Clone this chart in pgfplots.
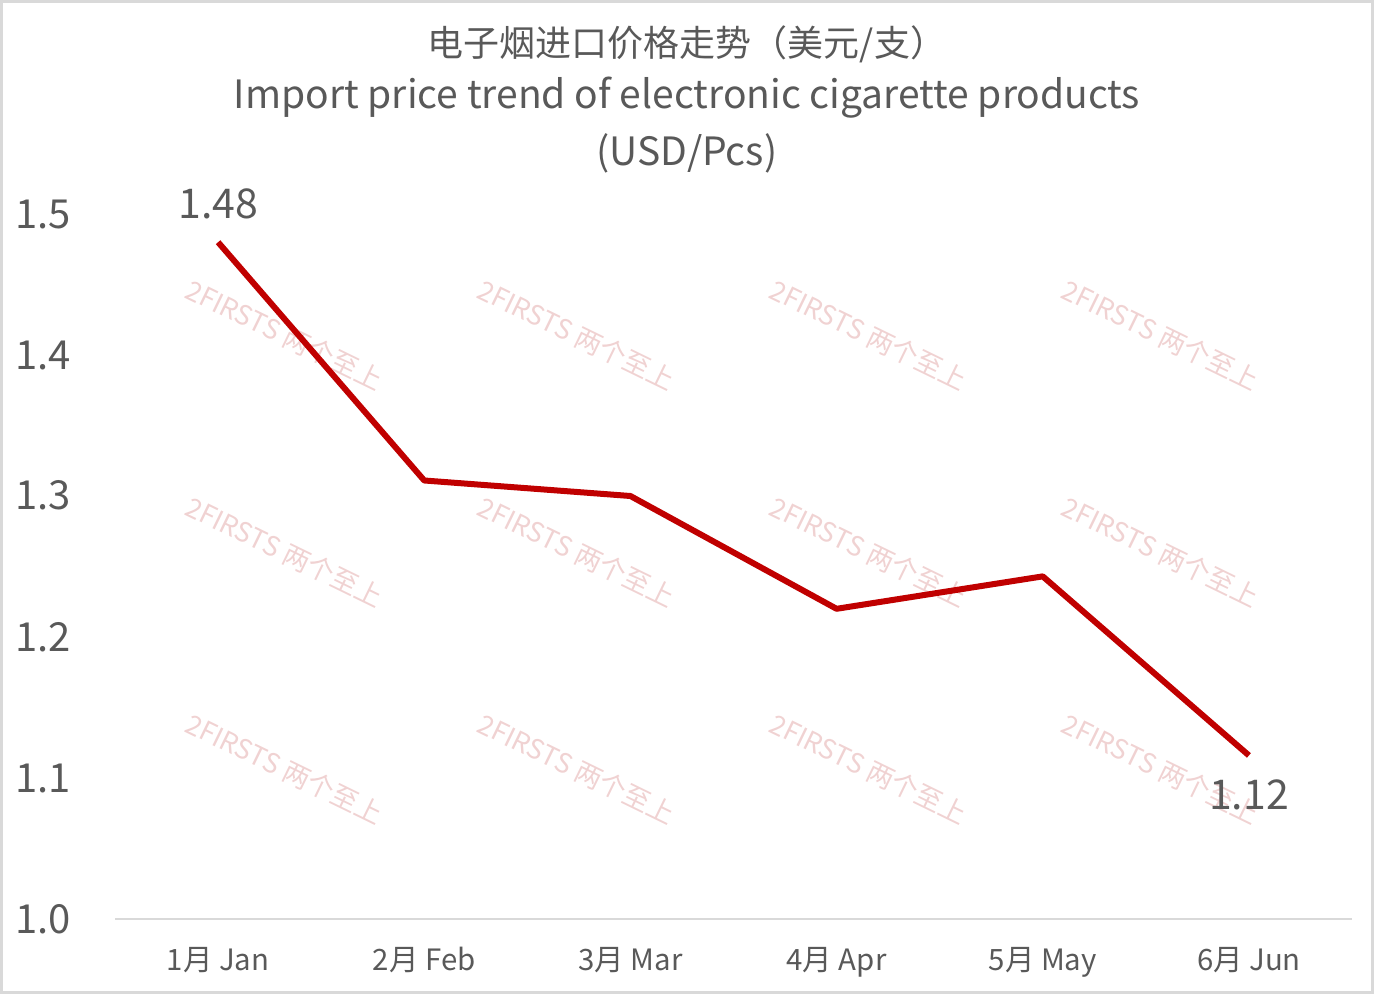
\documentclass[border=0pt]{standalone}
\usepackage{fontspec}
\setmainfont{Noto Sans CJK SC}
\usepackage{pgfplots}
\pgfplotsset{compat=1.18}
\definecolor{txt}{HTML}{595959}
\definecolor{line}{HTML}{C00000}
\definecolor{axgray}{HTML}{D9D9D9}
\definecolor{wm}{HTML}{F0D2D2}
\begin{document}
\begin{tikzpicture}[x=1pt,y=1pt]
\path[use as bounding box] (0,0) rectangle (687,497);
\draw[axgray,line width=1.5pt] (0.75,0.75) rectangle (686.25,496.25);
% watermark
\foreach \cx in {142.5,288.5,434.5,580.5}{
  \foreach \cy in {329.5,221,112.5}{
    \node[wm,rotate=-26,font=\fontsize{13.5}{13.5}\selectfont] at (\cx,\cy) {2FIRSTS 两个至上};
  }
}
% titles
\node[txt,font=\fontsize{18}{18}\selectfont] at (343.5,475) {电子烟进口价格走势（美元/支）};
\node[txt,font=\fontsize{19.5}{19.5}\selectfont] at (343.5,448) {Import price trend of electronic cigarette products};
\node[txt,font=\fontsize{19.5}{19.5}\selectfont] at (343.5,420.5) {(USD/Pcs)};
\begin{axis}[
    at={(57.5pt,37.5pt)}, anchor=south west,
    scale only axis,
    width=618.5pt, height=352.5pt,
    xmin=-0.5, xmax=5.5,
    ymin=1.0, ymax=1.5,
    xtick={0,1,2,3,4,5},
    xticklabels={1月 Jan,2月 Feb,3月 Mar,4月 Apr,5月 May,6月 Jun},
    ytick={1.0,1.1,1.2,1.3,1.4,1.5},
    major tick length=0pt,
    axis line style={draw=none},
    axis x line*=bottom,
    axis y line*=left,
    clip=false,
    /pgf/number format/assume math mode=true,
    yticklabel style={/pgf/number format/fixed,/pgf/number format/fixed zerofill,/pgf/number format/precision=1,
      anchor=base east, inner sep=0pt, xshift=-22pt, yshift=-7pt, text=txt, font=\fontsize{20}{20}\selectfont},
    xticklabel style={anchor=base, inner sep=0pt, yshift=-25.5pt, text=txt, font=\fontsize{14.7}{14.7}\selectfont},
  ]
  \draw[axgray,line width=1pt] (rel axis cs:0,0) -- (rel axis cs:1,0);
  \addplot[line, line width=3pt, mark=none, line join=round] coordinates {
    (0,1.480) (1,1.311) (2,1.300) (3,1.220) (4,1.243) (5,1.116)
  };
  \addplot[draw=none, mark=none, nodes near coords, point meta=explicit symbolic,
    every node near coord/.style={anchor=base, inner sep=0pt, yshift=12pt, text=txt, font=\fontsize{20.5}{20.5}\selectfont}]
    coordinates {(0,1.480)[1.48]};
  \addplot[draw=none, mark=none, nodes near coords, point meta=explicit symbolic,
    every node near coord/.style={anchor=base, inner sep=0pt, yshift=-27pt, text=txt, font=\fontsize{20.5}{20.5}\selectfont}]
    coordinates {(5,1.116)[1.12]};
\end{axis}
\end{tikzpicture}
\end{document}
